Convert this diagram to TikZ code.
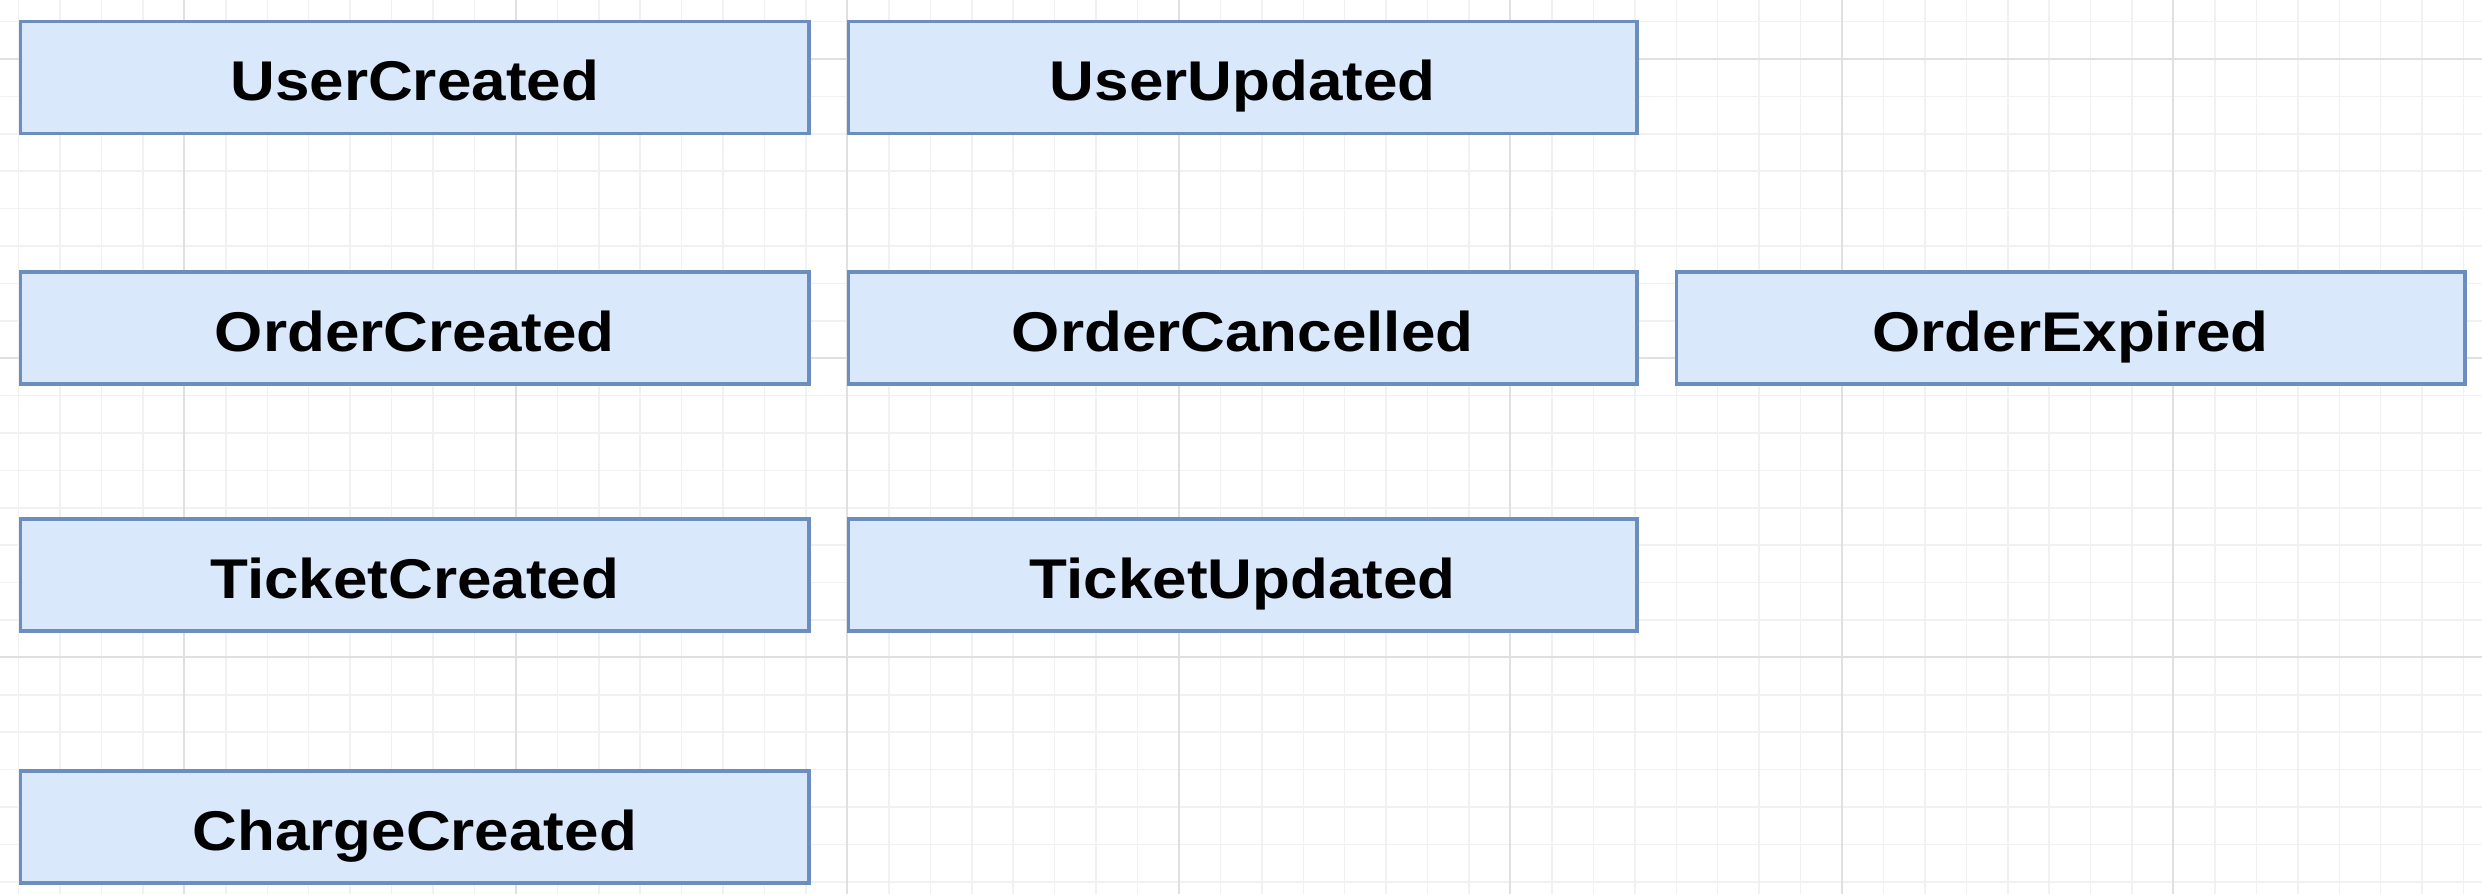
\documentclass[tikz,border=0pt]{standalone}
\usepackage{fontspec}
\newfontfamily\boxfont{Liberation Sans}[FakeStretch=1.107]
\definecolor{boxfill}{HTML}{DAE8FC}
\definecolor{boxline}{HTML}{6C8EBF}
\definecolor{gridminor}{HTML}{F1F1F1}
\definecolor{gridmajor}{HTML}{E0E0E0}
\tikzset{
  evbox/.style={draw=boxline, fill=boxfill, line width=3.5pt,
    minimum width=788.5pt, minimum height=112pt, inner sep=0pt,
    text height=46pt, text depth=0pt,
    font=\boxfont\bfseries\fontsize{56}{60}\selectfont, text=black},
  minorline/.style={draw=gridminor, line width=1.5pt},
  majorline/.style={draw=gridmajor, line width=2pt}
}
\begin{document}
\begin{tikzpicture}[x=1pt, y=-1pt]
  \useasboundingbox[fill=white] (0,0) rectangle (2482,894);
  % grid
  \foreach \i in {-4,...,55} {
    \draw[minorline] ({184.4+\i*41.44},0) -- ({184.4+\i*41.44},894);
  }
  \foreach \i in {-1,...,22} {
    \draw[minorline] (0,{59+\i*37.4}) -- (2482,{59+\i*37.4});
  }
  \foreach \i in {0,...,6} {
    \draw[majorline] ({184.4+\i*331.5},0) -- ({184.4+\i*331.5},894);
  }
  \foreach \i in {0,...,2} {
    \draw[majorline] (0,{59+\i*299.2}) -- (2482,{59+\i*299.2});
  }
  % boxes
  \node[evbox] (uc)  at (414.75,77.5)  {UserCreated};
  \node[evbox] (uu)  at (1242.75,77.5) {UserUpdated};
  \node[evbox] (oc)  at (414.75,328)   {OrderCreated};
  \node[evbox] (ocx) at (1242.75,328)  {OrderCancelled};
  \node[evbox] (oe)  at (2070.5,328)   {OrderExpired};
  \node[evbox] (tc)  at (414.75,575)   {TicketCreated};
  \node[evbox] (tu)  at (1242.75,575)  {TicketUpdated};
  \node[evbox] (cc)  at (414.75,827)   {ChargeCreated};
\end{tikzpicture}
\end{document}
